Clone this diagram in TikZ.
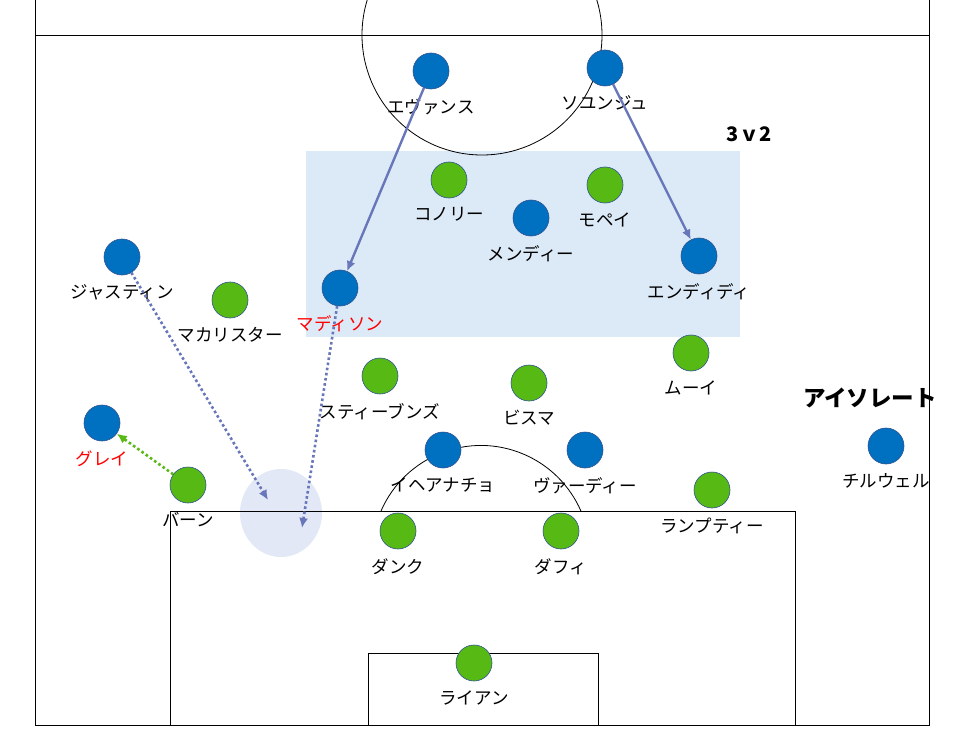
\documentclass[tikz,border=0pt]{standalone}
\usepackage{fontspec}
\newfontfamily\jp{Noto Sans CJK JP}
\usetikzlibrary{arrows.meta,calc}

\definecolor{pblue}{RGB}{0,112,192}
\definecolor{pgreen}{RGB}{86,185,20}
\definecolor{ring}{RGB}{47,82,143}
\definecolor{zone}{RGB}{220,234,247}
\definecolor{spot}{RGB}{226,232,245}
\definecolor{runblue}{RGB}{104,118,186}

\tikzset{
  player/.style={circle,draw=ring,line width=0.6pt,minimum size=36pt,inner sep=0pt},
  bluep/.style={player,fill=pblue},
  greenp/.style={player,fill=pgreen},
  every label/.style={font=\jp\fontsize{17.5}{19}\selectfont,inner sep=0pt},
  runarrow/.style={->,runblue,line width=2.4pt},
  dotrun/.style={->,line width=2.6pt,dash pattern=on 2.6pt off 2.6pt},
}

\begin{document}
\begin{tikzpicture}[x=1pt,y=-1pt,>={Latex[length=10pt,width=9pt]},label distance=9pt]
  \useasboundingbox (0,0) rectangle (964,733);

  % Shaded zones
  \fill[zone] (306,151) rectangle (740,337);
  \fill[spot] (281,513) ellipse [x radius=41,y radius=44];

  % Pitch markings
  \begin{scope}[line width=0.8pt]
    \clip (0,0) rectangle (964,733);
    \draw (35,0) -- (35,725) -- (929,725) -- (929,0);
    \draw (35,35) -- (929,35);
    \draw (482,35) circle [radius=120];
    \draw (170,725) |- (795,511) -- (795,725);
    \draw (368,725) |- (598,653) -- (598,725);
    \draw (381,511) arc [start angle=203.5,end angle=336.5,radius=109];
  \end{scope}

  % Blue team
  \node[bluep,label=below:{エヴァンス}] (evans) at (431,71) {};
  \node[bluep,label=below:{ソユンジュ}] (son) at (605,68) {};
  \node[bluep,label=below:{メンディー}] (mendy) at (531,218) {};
  \node[bluep,label=below:{エンディディ}] (ndidi) at (699,256) {};
  \node[bluep,label={[text=red]below:{マディソン}}] (maddison) at (340,288) {};
  \node[bluep,label=below:{ジャスティン}] (justin) at (122,257) {};
  \node[bluep,label={[text=red]below:{グレイ}}] (gray) at (102,423) {};
  \node[bluep,label=below:{イヘアナチョ}] (iheanacho) at (443,450) {};
  \node[bluep,label=below:{ヴァーディー}] (vardy) at (585,450) {};
  \node[bluep,label=below:{チルウェル}] (chilwell) at (886,446) {};

  % Green team
  \node[greenp,label=below:{コノリー}] (connolly) at (449,180) {};
  \node[greenp,label=below:{モペイ}] (maupay) at (605,185) {};
  \node[greenp,label=below:{マカリスター}] (macallister) at (230,300) {};
  \node[greenp,label=below:{スティーブンズ}] (stephens) at (380,376) {};
  \node[greenp,label=below:{ビスマ}] (bissouma) at (529,383) {};
  \node[greenp,label=below:{ムーイ}] (mooy) at (691,353) {};
  \node[greenp,label=below:{バーン}] (burn) at (188,485) {};
  \node[greenp,label=below:{ダンク}] (dunk) at (398,531) {};
  \node[greenp,label=below:{ダフィ}] (duffy) at (561,531) {};
  \node[greenp,label=below:{ランプティー}] (lamptey) at (712,490) {};
  \node[greenp,label=below:{ライアン}] (ryan) at (474,663) {};

  % Captions
  \node[font=\jp\bfseries\fontsize{20}{22}\selectfont] (ratio) at (749,134) {3ｖ2};
  \node[font=\jp\bfseries\fontsize{22.5}{24}\selectfont] (iso) at (870,398) {アイソレート};

  % Runs
  \coordinate (s1) at (268,500);
  \coordinate (s2) at (302,528);
  \draw[runarrow] (evans) -- (maddison);
  \draw[runarrow] (son) -- (ndidi);
  \draw[dotrun,runblue] (justin) -- (s1);
  \draw[dotrun,runblue] (maddison) -- (s2);
  \draw[dotrun,pgreen] (burn) -- (gray);
\end{tikzpicture}
\end{document}
